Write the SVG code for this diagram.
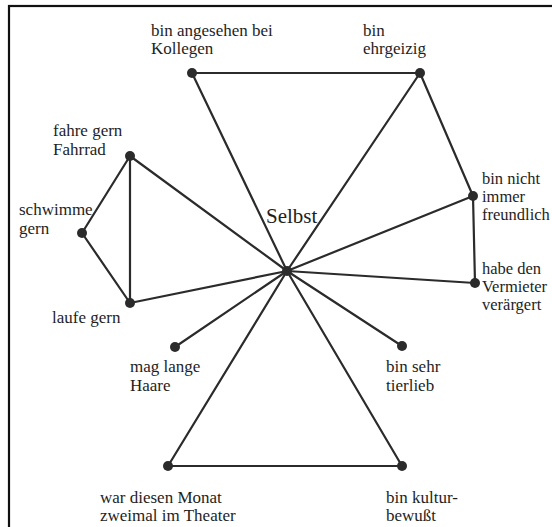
<svg xmlns="http://www.w3.org/2000/svg" width="552" height="527" viewBox="0 0 552 527">
<style>
.e{stroke:#2b2b2b;stroke-width:2.2;stroke-linecap:round;fill:none}
.n{fill:#2b2b2b}
text{font-family:"Liberation Serif","Times New Roman",serif;font-size:17px;fill:#1e1e1e}
.big{font-size:21px}
.r{font-size:16.5px}
</style>
<rect x="0" y="0" width="552" height="527" fill="#ffffff"/>
<rect x="9" y="6" width="560" height="540" fill="none" stroke="#111" stroke-width="2.2"/>
<g id="connectors">
<line class="e" x1="287" y1="271" x2="192" y2="73"/>
<line class="e" x1="287" y1="271" x2="420" y2="73"/>
<line class="e" x1="192" y1="73" x2="420" y2="73"/>
<line class="e" x1="420" y1="73" x2="473" y2="196"/>
<line class="e" x1="473" y1="196" x2="475" y2="283"/>
<line class="e" x1="287" y1="271" x2="473" y2="196"/>
<line class="e" x1="287" y1="271" x2="475" y2="283"/>
<line class="e" x1="130" y1="156" x2="82" y2="233"/>
<line class="e" x1="82" y1="233" x2="130" y2="303"/>
<line class="e" x1="130" y1="156" x2="130" y2="303"/>
<line class="e" x1="287" y1="271" x2="130" y2="156"/>
<line class="e" x1="287" y1="271" x2="130" y2="303"/>
<line class="e" x1="287" y1="271" x2="175" y2="347"/>
<line class="e" x1="287" y1="271" x2="402" y2="346"/>
<line class="e" x1="287" y1="271" x2="168" y2="466"/>
<line class="e" x1="287" y1="271" x2="402" y2="466"/>
<line class="e" x1="168" y1="466" x2="402" y2="466"/>
</g>
<g id="selbst"><circle class="n" cx="287" cy="271" r="5"/><text class="big" x="266" y="223">Selbst</text></g>
<g id="kollegen"><circle class="n" cx="192" cy="73" r="5"/><text x="151" y="36">bin angesehen bei</text><text x="151" y="54">Kollegen</text></g>
<g id="ehrgeizig"><circle class="n" cx="420" cy="73" r="5"/><text x="363" y="36">bin</text><text x="363" y="54">ehrgeizig</text></g>
<g id="fahrrad"><circle class="n" cx="130" cy="156" r="5"/><text x="53" y="136">fahre gern</text><text x="53" y="155">Fahrrad</text></g>
<g id="schwimme"><circle class="n" cx="82" cy="233" r="5"/><text x="19" y="215">schwimme</text><text x="19" y="234">gern</text></g>
<g id="laufe"><circle class="n" cx="130" cy="303" r="5"/><text x="52" y="323">laufe gern</text></g>
<g id="freundlich"><circle class="n" cx="473" cy="196" r="5"/><text class="r" x="482" y="184">bin nicht</text><text class="r" x="482" y="202">immer</text><text class="r" x="482" y="220">freundlich</text></g>
<g id="vermieter"><circle class="n" cx="475" cy="283" r="5"/><text class="r" x="482" y="274">habe den</text><text class="r" x="482" y="292">Vermieter</text><text class="r" x="482" y="310">verärgert</text></g>
<g id="haare"><circle class="n" cx="175" cy="347" r="5"/><text x="130" y="372">mag lange</text><text x="130" y="391">Haare</text></g>
<g id="tierlieb"><circle class="n" cx="402" cy="346" r="5"/><text x="386" y="372">bin sehr</text><text x="386" y="391">tierlieb</text></g>
<g id="theater"><circle class="n" cx="168" cy="466" r="5"/><text x="100" y="503">war diesen Monat</text><text x="100" y="521">zweimal im Theater</text></g>
<g id="kultur"><circle class="n" cx="402" cy="466" r="5"/><text x="386" y="503">bin kultur-</text><text x="386" y="521">bewußt</text></g>
</svg>
